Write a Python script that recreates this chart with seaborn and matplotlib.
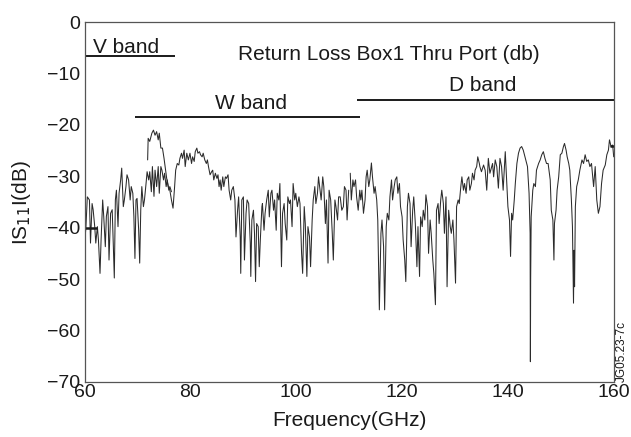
import numpy as np
import pandas as pd
import matplotlib
matplotlib.use("Agg")
import matplotlib.pyplot as plt
import seaborn as sns

# ---- data ----
# V-band measurement (60 - 76.4 GHz)
v_ghz = [60.0, 60.24, 60.5, 60.9, 61.1, 61.4, 61.6, 61.9, 62.1, 62.4, 62.6, 62.9, 63.1, 63.4,
         63.6, 63.9, 64.1, 64.4, 64.6, 64.9, 65.2, 65.4, 65.6, 65.8, 66.0, 66.3, 66.5, 66.8,
         67.0, 67.3, 67.5, 67.8, 68.0, 68.3, 68.6, 68.8, 69.1, 69.3, 69.5, 69.7, 69.9, 70.2,
         70.4, 70.6, 70.8, 71.1, 71.3, 71.6, 71.8, 72.1, 72.3, 72.6, 72.8, 73.1, 73.3, 73.6,
         73.9, 74.1, 74.4, 74.6, 74.9, 75.1, 75.4, 75.6, 75.9, 76.1, 76.4]
v_db = [-43.0, -39.8, -34.0, -34.6, -43.0, -35.3, -36.5, -39.8, -43.0, -39.8, -42.4, -48.9,
        -42.4, -34.6, -37.8, -43.7, -37.8, -35.9, -46.3, -37.2, -36.5, -43.0, -49.8, -34.6,
        -32.7, -39.8, -33.3, -30.7, -28.4, -35.9, -34.6, -32.0, -29.7, -30.7, -34.6, -32.0,
        -33.3, -37.8, -46.0, -34.6, -34.3, -40.4, -46.9, -36.5, -32.0, -35.9, -34.6, -31.4,
        -29.1, -30.7, -29.1, -33.0, -28.1, -33.9, -28.8, -32.0, -28.1, -33.3, -28.1, -28.8,
        -30.7, -29.4, -32.0, -30.7, -32.7, -32.0, -33.0]

# W-band measurement (71.9 - 110 GHz)
w_ghz = [71.9, 72.0, 72.3, 72.7, 73.0, 73.3, 73.6, 73.9, 74.1, 74.4, 74.7, 75.0, 75.2, 75.5,
         75.8, 76.1, 76.4, 76.7, 77.0, 77.2, 77.5, 77.8, 78.0, 78.3, 78.5, 78.8, 79.0, 79.3,
         79.6, 79.9, 80.2, 80.4, 80.7, 80.9, 81.2, 81.4, 81.7, 81.9, 82.2, 82.4, 82.7, 83.0,
         83.2, 83.4, 83.7, 84.0, 84.2, 84.4, 84.7, 85.0, 85.2, 85.4,
         85.6, 85.8, 86.1, 86.3, 86.6, 86.8, 87.1, 87.3, 87.6, 87.8, 88.1, 88.4, 88.6, 88.9,
         89.1, 89.4, 89.5, 89.7, 90.0, 90.2, 90.5, 90.7, 91.0, 91.3, 91.4, 91.6, 91.9, 92.1,
         92.3, 92.5, 92.8, 93.0, 93.2, 93.5, 93.6, 93.9, 94.1, 94.4, 94.7, 94.9, 95.2, 95.4,
         95.7, 95.9, 96.2, 96.4, 96.7, 96.9, 97.2, 97.4, 97.7, 97.9, 98.2, 98.4, 98.7, 98.9,
         99.2, 99.4, 99.7, 99.9, 100.2, 100.5, 100.7, 101.0, 101.2, 101.5, 101.7, 102.0,
         102.2, 102.5, 102.7, 103.0, 103.2, 103.5, 103.7, 104.0, 104.2, 104.5, 104.7, 105.0,
         105.2, 105.5, 105.7, 106.0, 106.2, 106.5, 106.8, 107.0, 107.3, 107.5, 107.8, 108.0,
         108.3, 108.6, 108.9, 109.1, 109.4, 109.6, 109.9]
w_db = [-26.8, -22.6, -23.2, -21.6, -21.0, -22.0, -21.3, -22.9, -21.6, -24.5, -24.5, -26.5,
        -28.1, -30.4, -32.0, -32.7, -34.6, -36.2, -32.0, -28.8, -27.5, -27.8, -26.5, -25.5,
        -26.5, -24.9, -28.1, -25.5, -26.8, -25.5, -27.5, -26.2, -27.1, -25.2, -24.5, -25.5,
        -25.2, -25.8, -26.2, -25.5, -26.8, -27.5, -26.8, -28.1, -29.7, -29.1, -28.8, -30.7,
        -29.4, -30.4, -29.7, -32.0,
        -30.7, -32.7, -30.1, -32.0, -30.1, -30.4, -29.7, -32.7, -34.6, -32.7, -32.0, -34.6,
        -41.8, -36.6, -34.0, -41.8, -48.9, -34.6, -34.0, -46.3, -37.2, -34.6, -35.3, -43.0,
        -49.5, -38.5, -36.6, -41.1, -50.5, -39.2, -39.8, -47.6, -42.4, -35.9, -35.3, -40.5,
        -37.2, -34.6, -32.7, -37.9, -33.3, -32.7, -36.6, -34.6, -40.5, -33.3, -34.6, -31.4,
        -47.6, -37.2, -35.3, -39.2, -42.4, -34.0, -35.3, -34.6, -39.8, -31.4, -34.6, -33.3,
        -35.9, -34.0, -35.3, -45.0, -48.9, -35.9, -39.2, -49.5, -39.8, -41.8, -47.6, -38.5,
        -34.6, -32.0, -35.3, -33.3, -30.1, -32.7, -34.6, -30.1, -32.0, -39.2, -34.6, -46.9,
        -32.7, -34.6, -41.1, -46.3, -34.6, -35.9, -38.5, -34.0, -34.0, -36.6, -35.9, -32.0,
        -32.7, -38.5, -32.7]

# D-band measurement (110 - 160 GHz)
d_ghz = [110.2, 110.4, 110.7, 110.9, 111.2, 111.4, 111.7, 112.0, 112.2, 112.4, 112.7, 113.0,
         113.2, 113.4, 113.7, 113.9, 114.2, 114.4, 114.7, 114.9, 115.2, 115.4, 115.7, 116.0,
         116.2, 116.5, 116.7, 117.0, 117.2, 117.5, 117.7, 118.0, 118.2, 118.5, 118.7, 119.0,
         119.2, 119.5, 119.7, 120.0, 120.2, 120.5, 120.7, 121.0, 121.2, 121.5, 121.7, 122.0,
         122.2, 122.5, 122.8, 123.0, 123.3, 123.5, 123.8, 124.0, 124.3, 124.5, 124.8, 125.0,
         125.3, 125.5, 125.8, 126.0, 126.3, 126.5, 126.8, 127.0, 127.3, 127.5, 127.8, 128.0,
         128.3, 128.5, 128.8, 129.1, 129.3, 129.6, 129.8, 130.1, 130.3, 130.6, 130.8, 131.1,
         131.3, 131.6, 131.8, 132.1, 132.3, 132.6, 132.8, 133.1, 133.3, 133.6, 133.8, 134.1,
         134.3, 134.6, 134.7, 135.0, 135.4, 135.7, 136.0, 136.3, 136.6, 137.1, 137.3, 137.6,
         137.9, 138.2, 138.5, 138.8, 139.1, 139.5, 139.8, 140.0, 140.3, 140.5, 140.7, 140.9,
         141.2, 141.4, 141.7, 142.0, 142.3, 142.6, 142.9, 143.3, 143.7, 144.0, 144.2, 144.25,
         144.3, 144.4, 144.7, 144.9, 145.2, 145.4, 145.8, 146.1, 146.4, 146.7, 147.0, 147.3,
         147.6, 148.0, 148.2, 148.5, 148.7, 148.8, 149.1, 149.3, 149.6, 149.9, 150.2, 150.5,
         150.7, 151.0, 151.2, 151.5, 151.7, 152.0, 152.2, 152.4, 152.5, 152.6, 152.75, 153.0,
         153.3, 153.6, 154.0, 154.3, 154.6, 154.9, 155.2, 155.5, 155.8, 156.2, 156.5, 156.8,
         157.1, 157.4, 157.7, 158.0, 158.4, 158.7, 159.0, 159.2, 159.5, 159.8, 160.0]
d_db = [-29.4, -34.6, -30.7, -32.0, -30.7, -34.0, -36.6, -32.7, -34.6, -32.7, -37.2, -34.6,
        -30.1, -28.8, -32.0, -30.7, -27.4, -30.1, -33.3, -32.0, -34.6, -38.5, -56.0, -41.1,
        -38.5, -43.7, -56.0, -39.8, -37.2, -38.5, -34.0, -30.7, -34.6, -32.0, -30.7, -30.1,
        -33.3, -31.4, -35.9, -37.9, -42.4, -46.3, -50.5, -35.9, -33.3, -35.3, -43.7, -36.6,
        -34.0, -39.2, -47.6, -39.8, -49.5, -37.9, -39.8, -36.6, -38.5, -33.6, -35.9, -45.0,
        -38.5, -41.1, -46.3, -48.9, -55.0, -36.6, -35.3, -39.2, -34.6, -32.7, -35.3, -41.1,
        -34.0, -51.5, -36.6, -39.8, -41.1, -38.5, -42.4, -50.8, -35.9, -34.6, -35.3, -32.0,
        -30.1, -32.7, -31.4, -33.3, -30.7, -30.1, -32.7, -31.4, -29.4, -30.7, -28.8, -28.1,
        -26.2, -27.5, -28.1, -29.1, -27.8, -28.8, -32.7, -26.5, -29.4, -27.5, -30.1, -26.8,
        -28.1, -32.3, -26.5, -28.1, -32.7, -25.2, -31.4, -35.9, -38.5, -45.6, -37.2, -38.5,
        -34.6, -31.4, -27.5, -25.5, -24.5, -24.2, -24.9, -26.5, -28.1, -33.3, -41.1, -66.1,
        -50.2, -37.9, -32.7, -31.4, -32.0, -28.8, -27.5, -26.8, -25.8, -25.2, -26.5, -27.5,
        -27.5, -30.7, -36.6, -38.5, -46.3, -39.2, -36.6, -32.7, -30.1, -25.8, -25.5, -24.2,
        -23.6, -24.9, -26.2, -27.5, -28.8, -34.6, -39.8, -54.7, -44.4, -51.5, -35.9, -32.0,
        -30.7, -28.8, -26.8, -27.5, -25.8, -27.1, -26.8, -28.1, -27.5, -32.0, -28.1, -34.6,
        -37.2, -35.9, -31.4, -28.8, -27.8, -25.8, -24.9, -22.9, -24.2, -23.9, -26.2]

# end-marker dashes seen at both ends of the trace
start_mark_ghz = [60.0, 62.4]
start_mark_db = [-40.0, -40.0]
end_mark_ghz = [159.3, 160.0]
end_mark_db = [-24.0, -24.0]

# band indicator lines
band_names = ["V band", "W band", "D band"]
band_start = [60.0, 69.5, 111.5]
band_end = [77.1, 112.0, 160.0]
band_level = [-6.6, -18.5, -15.1]
band_label_x = [61.6, 91.5, 135.2]
band_label_y = [-5.9, -16.8, -13.3]

title_text = "Return Loss Box1 Thru Port (db)"
x_ticks = [60, 80, 100, 120, 140, 160]
y_ticks = [0, -10, -20, -30, -40, -50, -60, -70]

# ---- figure ----
sns.set_theme(style="white")
plt.rcParams["font.family"] = ["Liberation Sans", "DejaVu Sans"]

fig = plt.figure(figsize=(6.31, 4.37), dpi=100)
ax = fig.add_axes([0.1342, 0.1265, 0.8384, 0.8225])

line_kw = dict(color="#2b2b2b", linewidth=0.75, estimator=None, sort=False, legend=False)
for gx, gy in [(v_ghz, v_db), (w_ghz, w_db), (d_ghz, d_db)]:
    df = pd.DataFrame({"f": gx, "s": gy})
    sns.lineplot(data=df, x="f", y="s", ax=ax, **line_kw)

for gx, gy in [(start_mark_ghz, start_mark_db), (end_mark_ghz, end_mark_db)]:
    ax.plot(gx, gy, color="#1a1a1a", linewidth=1.8, solid_capstyle="butt")

for name, s0, s1, lvl, lx, ly in zip(band_names, band_start, band_end, band_level,
                                      band_label_x, band_label_y):
    ax.plot([s0, s1], [lvl, lvl], color="#1a1a1a", linewidth=1.4, solid_capstyle="butt")
    ha = "left" if name == "V band" else "center"
    ax.text(lx, ly, name, ha=ha, va="baseline", fontsize=15, color="#1a1a1a")

ax.text(117.4, -7.4, title_text, ha="center", va="baseline", fontsize=15, color="#1a1a1a")

ax.set_xlim(60, 160)
ax.set_ylim(-70, 0)
ax.set_xticks(x_ticks)
ax.set_yticks(y_ticks)
ax.set_yticklabels(["0"] + ["\u2212%d" % abs(t) for t in y_ticks[1:]])
ax.tick_params(direction="in", length=8.5, width=0.8, color="#555555",
               labelsize=14, labelcolor="#1a1a1a")
ax.tick_params(axis="x", pad=1.5)
ax.tick_params(axis="y", pad=3)
for sp in ax.spines.values():
    sp.set_color("#555555")
    sp.set_linewidth(0.9)
    sp.set_visible(True)

ax.set_xlabel("Frequency(GHz)", fontsize=15, color="#1a1a1a", labelpad=7)
ax.set_ylabel("IS$_{11}$I(dB)", fontsize=15, color="#1a1a1a", labelpad=10)
ax.grid(False)

fig.text(0.985, 0.127, "JG05.23-7c", rotation=90, ha="center", va="bottom",
         fontsize=8.5, color="#1a1a1a")

fig.savefig("out.png", dpi=100)
